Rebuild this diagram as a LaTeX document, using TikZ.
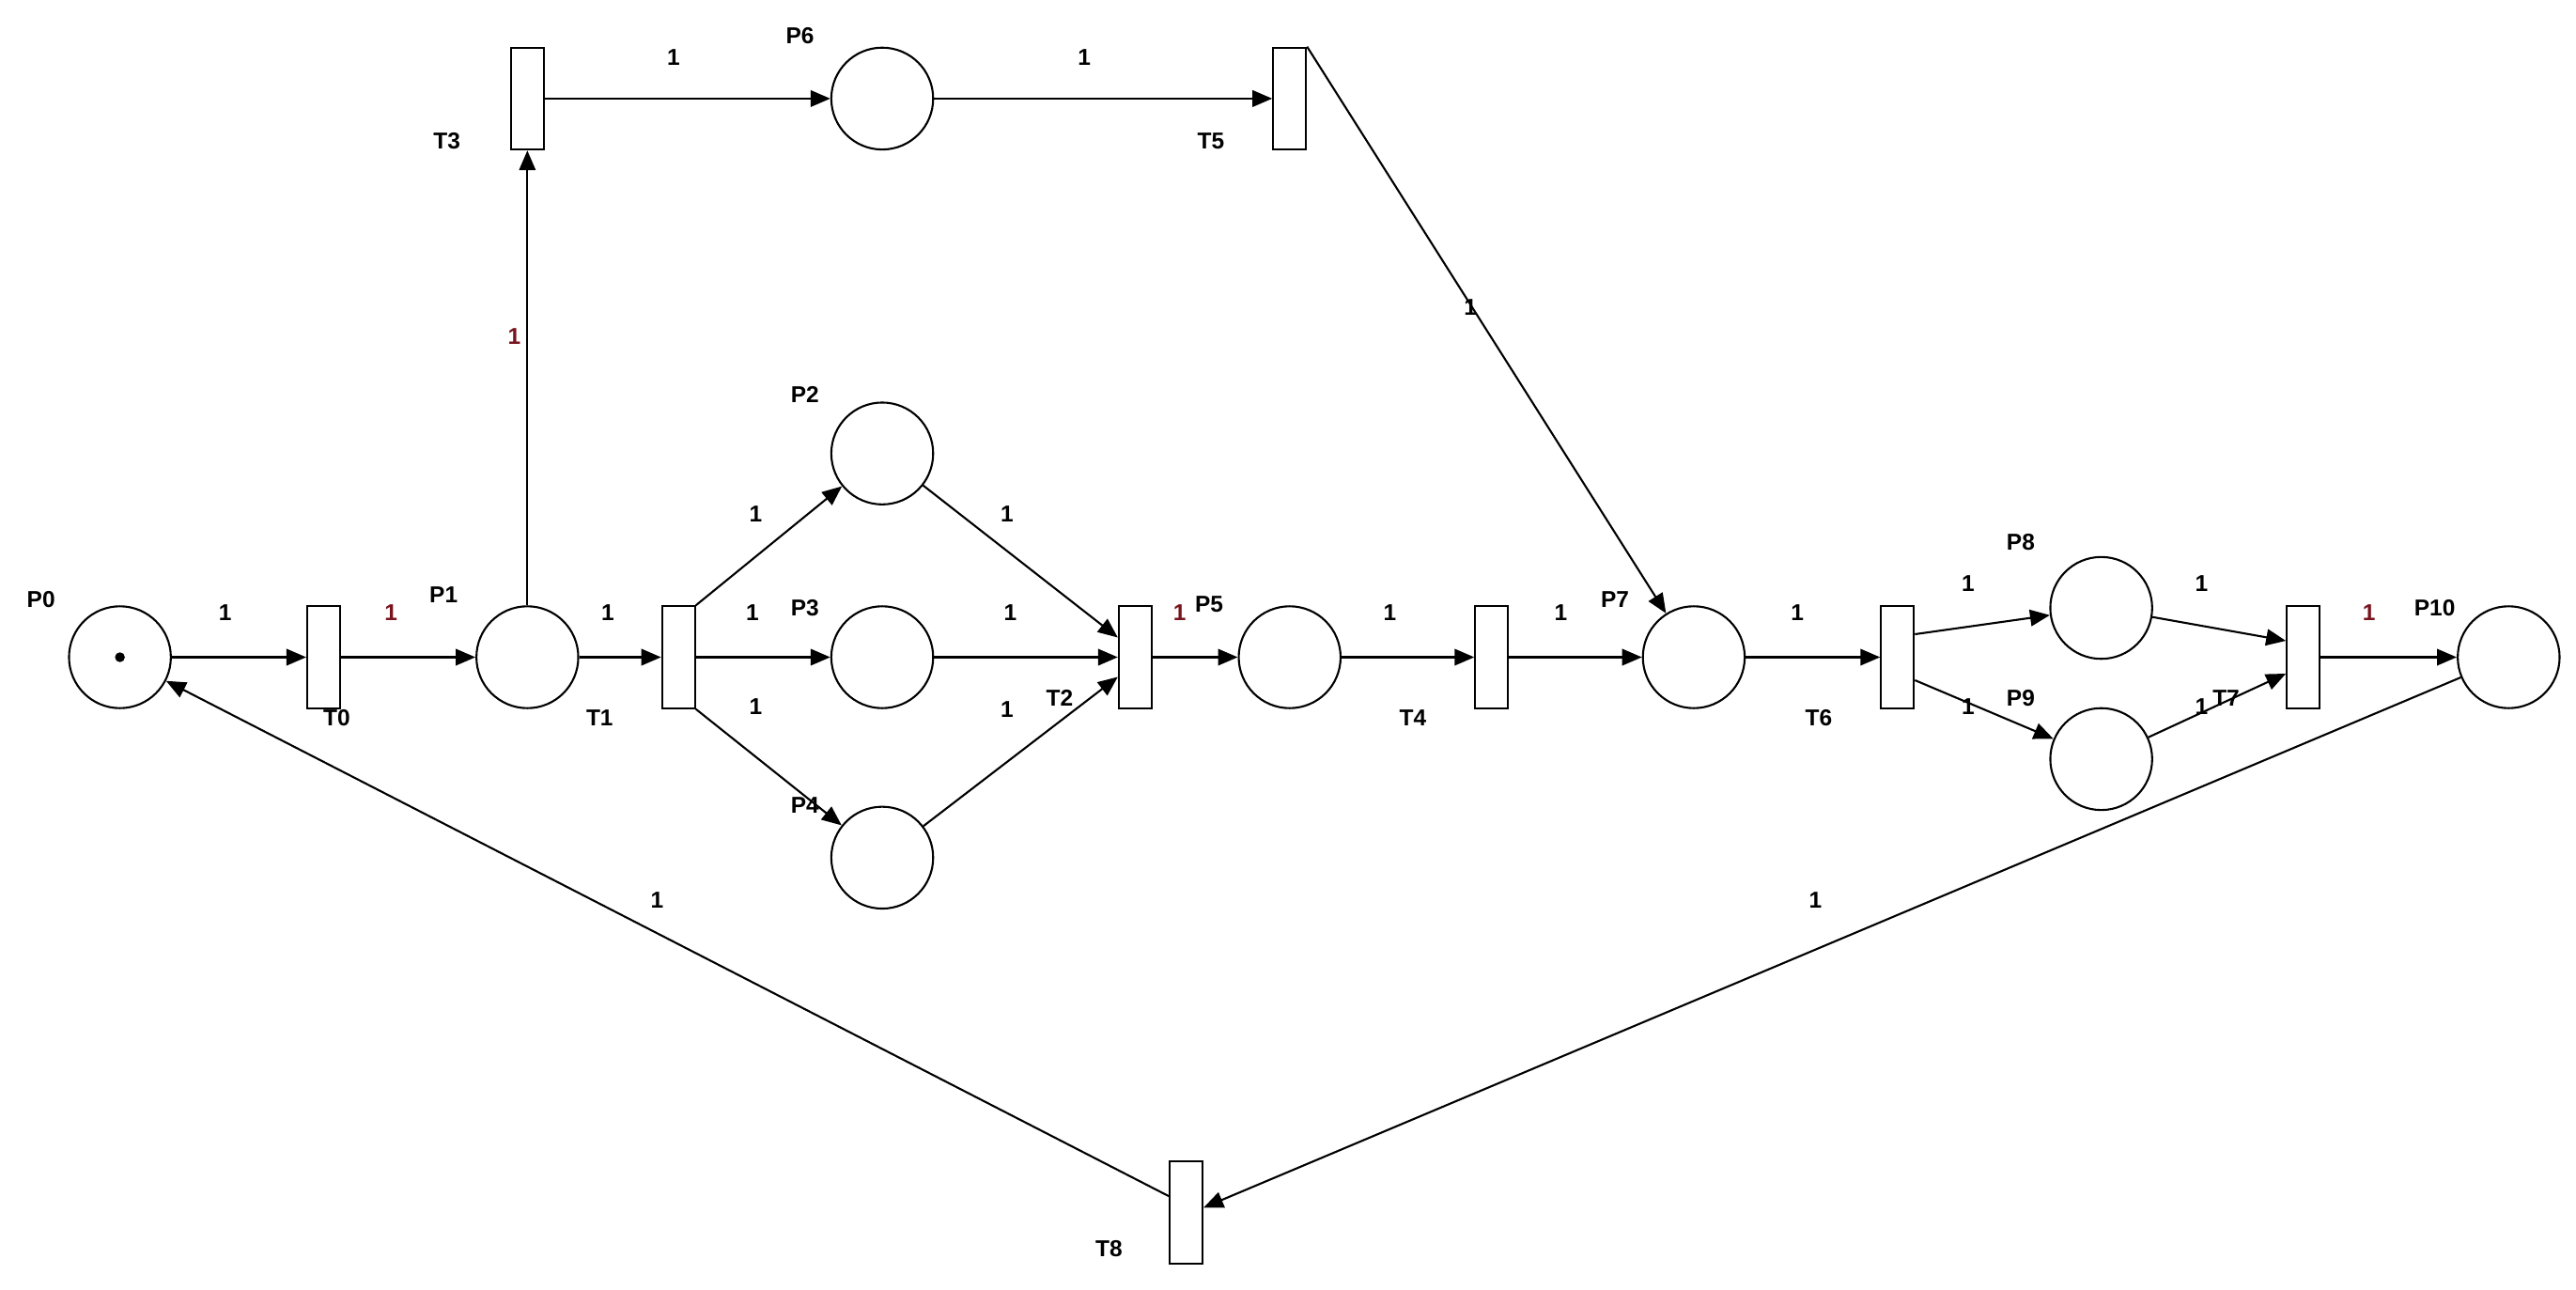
\documentclass[tikz,border=0pt]{standalone}
\usepackage{fontspec}
\setmainfont{Liberation Sans}
\usetikzlibrary{arrows.meta}
\definecolor{wred}{RGB}{120,20,30}
\begin{document}
\begin{tikzpicture}[x=1pt,y=-1pt,
  place/.style={draw,circle,minimum size=62pt,inner sep=0pt,line width=1.2pt},
  trans/.style={draw,rectangle,minimum width=20pt,minimum height=62pt,inner sep=0pt,line width=1.2pt},
  arc/.style={-{Triangle[length=12pt,width=10pt]},line width=1.2pt},
  lbl/.style={font=\fontsize{14}{16}\selectfont\bfseries,inner sep=0pt},
  wt/.style={font=\fontsize{14}{16}\selectfont\bfseries,inner sep=0pt},
  rwt/.style={wt,text=wred}]
\useasboundingbox (0,0) rectangle (1568,785);
\node[place] (P0) at (73,400) {};
\fill (73,400) circle (3pt);
\node[trans] (T0) at (197,400) {};
\node[place] (P1) at (321,400) {};
\node[trans] (T1) at (413,400) {};
\node[place] (P2) at (537,276) {};
\node[place] (P3) at (537,400) {};
\node[place] (P4) at (537,522) {};
\node[trans] (T2) at (691,400) {};
\node[place] (P5) at (785,400) {};
\node[trans] (T4) at (908,400) {};
\node[place] (P7) at (1031,400) {};
\node[trans] (T6) at (1155,400) {};
\node[place] (P8) at (1279,370) {};
\node[place] (P9) at (1279,462) {};
\node[trans] (T7) at (1402,400) {};
\node[place] (P10) at (1527,400) {};
\node[trans] (T3) at (321,60) {};
\node[place] (P6) at (537,60) {};
\node[trans] (T5) at (785,60) {};
\node[trans] (T8) at (722,738) {};
% labels
\node[lbl] (lP0) at (25,365) {P0};
\node[lbl] (lT0) at (205,437) {T0};
\node[lbl] (lP1) at (270,362) {P1};
\node[lbl] (lT1) at (365,437) {T1};
\node[lbl] (lP2) at (490,240) {P2};
\node[lbl] (lP3) at (490,370) {P3};
\node[lbl] (lP4) at (490,490) {P4};
\node[lbl] (lT2) at (645,425) {T2};
\node[lbl] (lP5) at (736,368) {P5};
\node[lbl] (lT4) at (860,437) {T4};
\node[lbl] (lP7) at (983,365) {P7};
\node[lbl] (lT6) at (1107,437) {T6};
\node[lbl] (lP8) at (1230,330) {P8};
\node[lbl] (lP9) at (1230,425) {P9};
\node[lbl] (lT7) at (1355,425) {T7};
\node[lbl] (lP10) at (1482,370) {P10};
\node[lbl] (lT3) at (272,86) {T3};
\node[lbl] (lP6) at (487,22) {P6};
\node[lbl] (lT5) at (737,86) {T5};
\node[lbl] (lT8) at (675,760) {T8};
% arcs
\draw[arc] (P0) -- (T0);
\draw[arc] (T0) -- (P1);
\draw[arc] (P1) -- (T1);
\draw[arc] (T1.north east) -- (P2);
\draw[arc] (T1) -- (P3);
\draw[arc] (T1.south east) -- (P4);
\draw[arc] (P2) -- ([yshift=12pt]T2.west);
\draw[arc] (P3) -- (T2);
\draw[arc] (P4) -- ([yshift=-12pt]T2.west);
\draw[arc] (T2) -- (P5);
\draw[arc] (P5) -- (T4);
\draw[arc] (T4) -- (P7);
\draw[arc] (P7) -- (T6);
\draw[arc] ([yshift=14pt]T6.east) -- (P8);
\draw[arc] ([yshift=-14pt]T6.east) -- (P9);
\draw[arc] (P8) -- ([yshift=10pt]T7.west);
\draw[arc] (P9) -- ([yshift=-10pt]T7.west);
\draw[arc] (T7) -- (P10);
\draw[arc] (P1) -- (T3);
\draw[arc] (T3) -- (P6);
\draw[arc] (P6) -- (T5);
\draw[arc] (T5.north east) -- (P7);
\draw[arc] (P10) -- ([yshift=3pt]T8.east);
\draw[arc] ([yshift=10pt]T8.west) -- (P0);
% weights
\node[wt] (w1) at (137,373) {1};
\node[rwt] (w2) at (238,373) {1};
\node[wt] (w3) at (370,373) {1};
\node[wt] (w4) at (460,313) {1};
\node[wt] (w5) at (458,373) {1};
\node[wt] (w6) at (460,430) {1};
\node[wt] (w7) at (613,313) {1};
\node[wt] (w8) at (615,373) {1};
\node[wt] (w9) at (613,432) {1};
\node[rwt] (w10) at (718,373) {1};
\node[wt] (w11) at (846,373) {1};
\node[wt] (w12) at (950,373) {1};
\node[wt] (w13) at (1094,373) {1};
\node[wt] (w14) at (1198,355) {1};
\node[wt] (w15) at (1198,430) {1};
\node[wt] (w16) at (1340,355) {1};
\node[wt] (w17) at (1340,430) {1};
\node[rwt] (w18) at (1442,373) {1};
\node[rwt] (w19) at (313,205) {1};
\node[wt] (w20) at (410,35) {1};
\node[wt] (w21) at (660,35) {1};
\node[wt] (w22) at (895,187) {1};
\node[wt] (w23) at (1105,548) {1};
\node[wt] (w24) at (400,548) {1};
\end{tikzpicture}
\end{document}
